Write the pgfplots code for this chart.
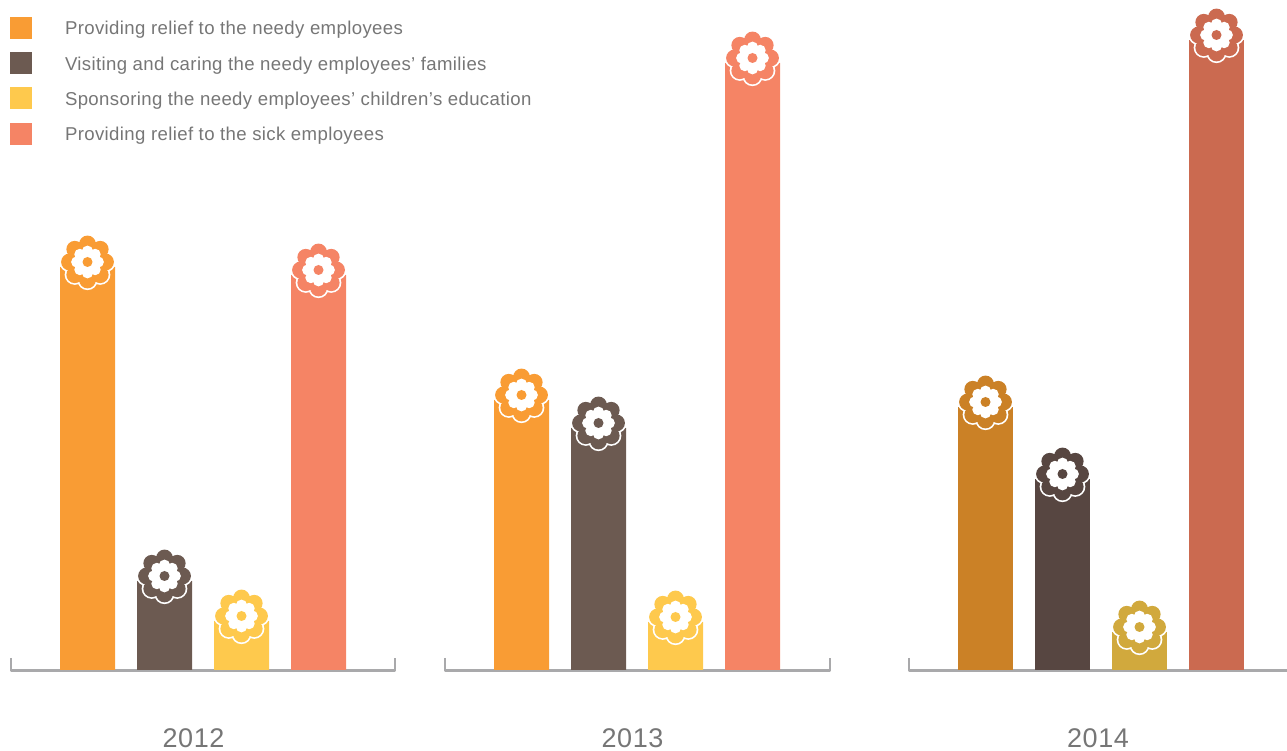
\documentclass[border=0pt]{standalone}
\usepackage{pgfplots}
\pgfplotsset{compat=1.18}
\usepackage{pgfplotstable}
\usepackage{fontspec}
\setmainfont[LetterSpace=2]{Liberation Sans}

\definecolor{reliefNeedy}{HTML}{F99C34}
\definecolor{visiting}{HTML}{6C5A51}
\definecolor{education}{HTML}{FEC94D}
\definecolor{reliefSick}{HTML}{F58465}
\definecolor{reliefNeedyDark}{HTML}{CB8126}
\definecolor{visitingDark}{HTML}{574641}
\definecolor{educationDark}{HTML}{D1A93D}
\definecolor{reliefSickDark}{HTML}{CB6A50}
\definecolor{bracket}{HTML}{A9A9AB}
\definecolor{labeltext}{HTML}{767676}

% Flower cap sitting on a bar: white-rimmed petals, white corolla, coloured heart
\newcommand{\petals}[3]{%
  \pgfpathcircle{\pgfpoint{0pt}{0pt}}{#1}%
  \foreach \a in {0,45,...,315}{%
    \pgfpathcircle{\pgfpointpolar{\a}{#2}}{#3}%
  }%
}
\pgfdeclareplotmark{flower}{%
  \pgftransformshift{\pgfpoint{0pt}{5pt}}%
  \begin{pgfscope}
    \pgfsetstrokecolor{white}\pgfsetlinewidth{3.4pt}%
    \petals{20pt}{18pt}{8.4pt}\pgfusepathqstroke
  \end{pgfscope}
  \petals{20pt}{18pt}{8.4pt}\pgfusepathqfill
  \begin{pgfscope}
    \pgfsetfillcolor{white}%
    \petals{13pt}{10.8pt}{5.6pt}\pgfusepathqfill
  \end{pgfscope}
  \pgfpathcircle{\pgfpoint{0pt}{0pt}}{5pt}\pgfusepathqfill
}

% Bar centres and heights per series
\pgfplotstableread{
x     y
87.5  403
521.5 270
}\tblNeedy
\pgfplotstableread{
x     y
164.5 89
598.5 242
}\tblVisit
\pgfplotstableread{
x     y
241.5 49
675.5 48
}\tblEdu
\pgfplotstableread{
x     y
318.5 395
752.5 607
}\tblSick
\pgfplotstableread{
x      y
985.5  263
}\tblNeedyB
\pgfplotstableread{
x      y
1062.5 191
}\tblVisitB
\pgfplotstableread{
x      y
1139.5 38
}\tblEduB
\pgfplotstableread{
x      y
1216.5 630
}\tblSickB

\newcommand{\series}[2]{%
  \addplot[ybar, bar width=55pt, bar shift=0pt, draw=none, fill=#2] table {#1};
}
\newcommand{\caps}[2]{%
  \addplot[forget plot, only marks, mark=flower, mark options={fill=#2, draw=none}] table {#1};
}

\begin{document}
\begin{tikzpicture}
\useasboundingbox (0,0) rectangle (1287pt,751pt);
\begin{axis}[
  at={(0,0)}, anchor=south west,
  x=1pt, y=1pt,
  xmin=0, xmax=1287, ymin=-81, ymax=670,
  clip=false,
  axis line style={draw=none},
  tick style={draw=none},
  ytick=\empty,
  xtick={193.5,632.5,1098},
  xticklabels={2012,2013,2014},
  xticklabel style={yshift=26pt, text=labeltext, font=\fontsize{27}{28}\selectfont},
  /pgf/number format/assume math mode=true,
  legend cell align=left,
  legend style={
    at={(0pt,751pt)}, anchor=north west,
    draw=none, fill=none, inner sep=0pt, outer sep=0pt,
    xshift=10pt, yshift=-11.5pt,
    row sep=0pt, column sep=0pt,
    font=\fontsize{18.6}{20}\selectfont,
    text=labeltext,
    nodes={inner sep=0pt, text height=23.3pt, text depth=12pt},
  },
  legend image code/.code={
    \fill[#1, draw=none] (0pt,-9.5pt) rectangle (22pt,12.5pt);
    \path[draw=none, fill=none] (0pt,0pt) rectangle (55pt,1pt);
  },
]
  % Year brackets under each group
  \addplot[forget plot, bracket, line width=2.2pt, line join=round] coordinates {(11,12)(11,-0.5)(395,-0.5)(395,12)};
  \addplot[forget plot, bracket, line width=2.2pt, line join=round] coordinates {(445,12)(445,-0.5)(830,-0.5)(830,12)};
  \addplot[forget plot, bracket, line width=2.2pt, line join=round] coordinates {(909,12)(909,-0.5)(1287,-0.5)};

  \series{\tblNeedy}{reliefNeedy}
  \addlegendentry{Providing relief to the needy employees}
  \series{\tblVisit}{visiting}
  \addlegendentry{Visiting and caring the needy employees’ families}
  \series{\tblEdu}{education}
  \addlegendentry{Sponsoring the needy employees’ children’s education}
  \series{\tblSick}{reliefSick}
  \addlegendentry{Providing relief to the sick employees}

  \caps{\tblNeedy}{reliefNeedy}
  \caps{\tblVisit}{visiting}
  \caps{\tblEdu}{education}
  \caps{\tblSick}{reliefSick}

  \addplot[forget plot, ybar, bar width=55pt, bar shift=0pt, draw=none, fill=reliefNeedyDark] table {\tblNeedyB};
  \addplot[forget plot, ybar, bar width=55pt, bar shift=0pt, draw=none, fill=visitingDark] table {\tblVisitB};
  \addplot[forget plot, ybar, bar width=55pt, bar shift=0pt, draw=none, fill=educationDark] table {\tblEduB};
  \addplot[forget plot, ybar, bar width=55pt, bar shift=0pt, draw=none, fill=reliefSickDark] table {\tblSickB};
  \caps{\tblNeedyB}{reliefNeedyDark}
  \caps{\tblVisitB}{visitingDark}
  \caps{\tblEduB}{educationDark}
  \caps{\tblSickB}{reliefSickDark}
\end{axis}
\end{tikzpicture}
\end{document}
